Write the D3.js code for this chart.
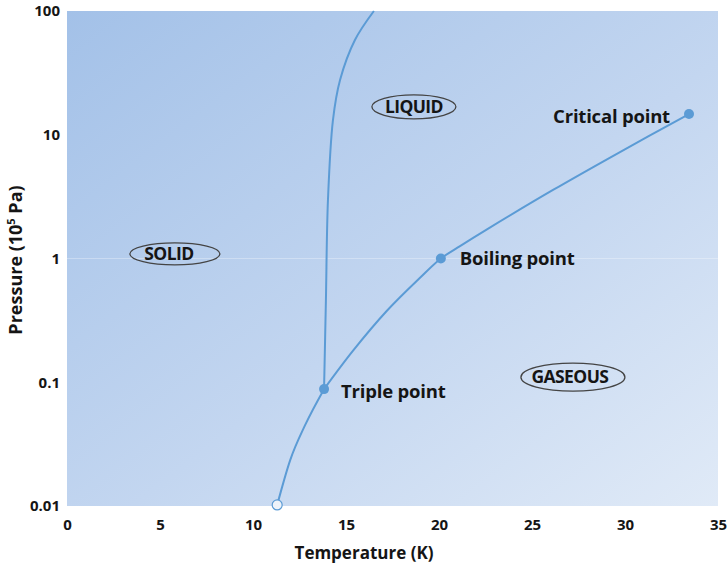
<!DOCTYPE html>
<html>
<head>
<meta charset="utf-8">
<script src="https://cdn.jsdelivr.net/npm/d3@7"></script>
<style>
  body { margin: 0; background: #fff; }
  text { font-family: "Open Sans", Lato, sans-serif; font-weight: bold; fill: #151515; }
</style>
</head>
<body>
<div id="app"></div>
<script>
const width = 727;
const height = 566;
const margin = { top: 11, right: 9, bottom: 60, left: 67 };

const xTicks = [0, 5, 10, 15, 20, 25, 30, 35];
const yTicks = [0.01, 0.1, 1, 10, 100];
const yTickLabels = ['0.01', '0.1', '1', '10', '100'];

// phase boundaries (T in K, P in 10^5 Pa)
const sublimationT = [11.3, 12.0, 12.8, 13.82];
const sublimationP = [0.0102, 0.0235, 0.045, 0.088];
const meltingT = [13.82, 13.92, 14.03, 14.30, 14.68, 15.48, 16.5];
const meltingP = [0.088, 0.46, 2.97, 13.2, 27.7, 58.3, 100];
const vaporT = [13.82, 15.38, 17.2, 18.98, 20.1, 21.13, 22.58, 26.13, 29.73, 33.44];
const vaporP = [0.088, 0.180, 0.378, 0.698, 1.0, 1.26, 1.72, 3.58, 7.25, 14.7];

const pointNames = ['Triple point', 'Boiling point', 'Critical point'];
const pointT = [13.82, 20.1, 33.44];
const pointP = [0.088, 1.0, 14.7];

const phaseNames = ['SOLID', 'LIQUID', 'GASEOUS'];
const phaseT = [5.8, 18.65, 27.2];
const phaseP = [1.09, 16.8, 0.11];

const x = d3.scaleLinear().domain([0, 35]).range([margin.left, width - margin.right]);
const y = d3.scaleLog().domain([0.01, 100]).range([height - margin.bottom, margin.top]);

const svg = d3.select('#app').append('svg')
  .attr('width', width)
  .attr('height', height);

const grad = svg.append('defs').append('linearGradient')
  .attr('id', 'bg')
  .attr('x1', 0).attr('y1', 0).attr('x2', 1).attr('y2', 1);
grad.append('stop').attr('offset', '0%').attr('stop-color', '#a3c1e8');
grad.append('stop').attr('offset', '55%').attr('stop-color', '#c3d6f0');
grad.append('stop').attr('offset', '100%').attr('stop-color', '#e0eaf7');

svg.append('rect')
  .attr('x', x(0))
  .attr('y', y(100))
  .attr('width', x(35) - x(0))
  .attr('height', y(0.01) - y(100))
  .attr('fill', 'url(#bg)');

// faint line at 1
svg.append('line')
  .attr('x1', x(0)).attr('x2', x(35))
  .attr('y1', y(1)).attr('y2', y(1))
  .attr('stroke', '#ffffff')
  .attr('stroke-opacity', 0.3);

// axes
const xAxis = svg.append('g')
  .attr('transform', `translate(0,${height - margin.bottom})`)
  .call(d3.axisBottom(x).tickValues(xTicks).tickSize(0).tickPadding(13));
const yAxis = svg.append('g')
  .attr('transform', `translate(${margin.left},0)`)
  .call(d3.axisLeft(y).tickValues(yTicks).tickFormat((d, i) => yTickLabels[i]).tickSize(0).tickPadding(7));

[xAxis, yAxis].forEach(a => {
  a.select('.domain').remove();
  a.selectAll('text')
    .style('font-family', '"Open Sans", sans-serif')
    .style('font-weight', 'bold')
    .style('font-size', '15px')
    .attr('fill', '#151515');
});

svg.append('text')
  .attr('x', 364)
  .attr('y', 559)
  .attr('text-anchor', 'middle')
  .style('font-size', '17px')
  .text('Temperature (K)');

const yt = svg.append('text')
  .attr('transform', 'translate(22,260) rotate(-90)')
  .attr('text-anchor', 'middle')
  .style('font-size', '18px');
yt.append('tspan').text('Pressure (10');
yt.append('tspan').text('5').style('font-size', '11px').attr('dy', -7);
yt.append('tspan').text(' Pa)').attr('dy', 7);

// curves
const lineRom = d3.line()
  .x(d => x(d[0]))
  .y(d => y(d[1]))
  .curve(d3.curveCatmullRom);
const lineMono = d3.line()
  .x(d => x(d[0]))
  .y(d => y(d[1]))
  .curve(d3.curveMonotoneX);

const curves = [
  [sublimationT, sublimationP, lineMono],
  [meltingT, meltingP, lineRom],
  [vaporT, vaporP, lineRom]
];

svg.append('g')
  .selectAll('path')
  .data(curves)
  .enter().append('path')
  .attr('d', c => c[2](c[0].map((t, i) => [t, c[1][i]])))
  .attr('fill', 'none')
  .attr('stroke', '#5b9bd5')
  .attr('stroke-width', 2);

// open start marker
svg.append('circle')
  .attr('cx', x(sublimationT[0]))
  .attr('cy', y(sublimationP[0]))
  .attr('r', 5)
  .attr('fill', '#eef3fa')
  .attr('stroke', '#5b9bd5')
  .attr('stroke-width', 1.2);

// named points
const labelDx = [17, 19, -19];
const labelDy = [9, 6, 9];
const labelAnchor = ['start', 'start', 'end'];

svg.append('g')
  .selectAll('circle')
  .data(pointNames)
  .enter().append('circle')
  .attr('cx', (d, i) => x(pointT[i]))
  .attr('cy', (d, i) => y(pointP[i]))
  .attr('r', 5)
  .attr('fill', '#5b9bd5');

svg.append('g')
  .selectAll('text')
  .data(pointNames)
  .enter().append('text')
  .attr('x', (d, i) => x(pointT[i]) + labelDx[i])
  .attr('y', (d, i) => y(pointP[i]) + labelDy[i])
  .attr('text-anchor', (d, i) => labelAnchor[i])
  .style('font-size', '18.5px')
  .style('letter-spacing', '-0.2px')
  .text(d => d);

// phase labels in ellipses
const ellRx = [45, 42, 52];
const ellRy = [11, 12, 14];
const textDx = [-6, 0, -3];

const phases = svg.append('g')
  .selectAll('g')
  .data(phaseNames)
  .enter().append('g')
  .attr('transform', (d, i) => `translate(${x(phaseT[i])},${y(phaseP[i])})`);

phases.append('ellipse')
  .attr('rx', (d, i) => ellRx[i])
  .attr('ry', (d, i) => ellRy[i])
  .attr('fill', 'none')
  .attr('stroke', '#444')
  .attr('stroke-width', 1.3);

phases.append('text')
  .attr('x', (d, i) => textDx[i])
  .attr('dy', '0.36em')
  .attr('text-anchor', 'middle')
  .style('font-size', '17.5px')
  .style('letter-spacing', '-0.6px')
  .text(d => d);
</script>
</body>
</html>
